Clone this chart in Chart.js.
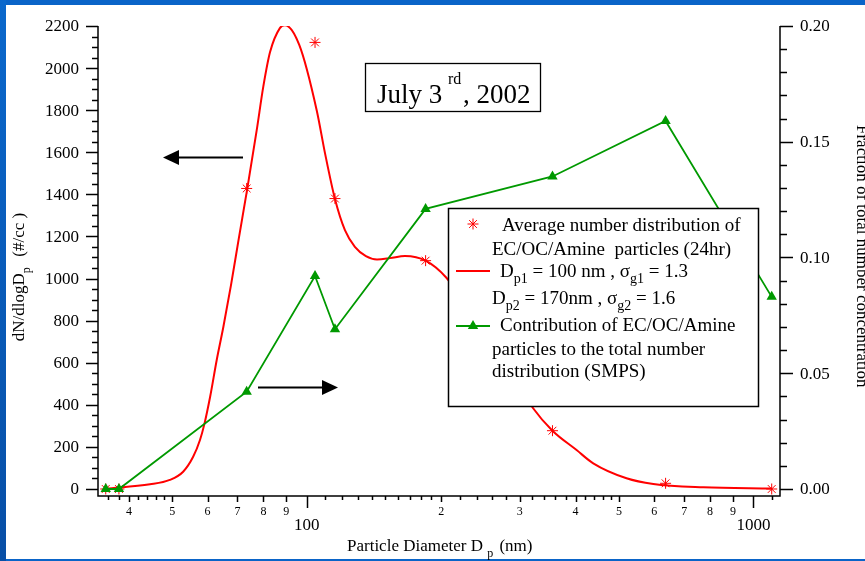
<!DOCTYPE html>
<html>
<head>
<meta charset="utf-8">
<script src="https://cdn.jsdelivr.net/npm/chart.js@4/dist/chart.umd.min.js"></script>
<style>
html, body { margin: 0; padding: 0; background: #fff; }
#wrap { width: 865px; height: 561px; }
</style>
</head>
<body>
<div id="wrap"><canvas id="myChart" width="865" height="561"></canvas></div>
<script>
// fitted lognormal curve
var diamFit = [35.5, 44.6, 49.4, 52.9, 55.7, 57.7, 59.0, 60.8, 62.9, 65.1, 67.7, 70.5, 73.6, 77.3, 80.0, 82.8, 87.1, 89.4, 96.3, 105.3, 109.9, 115.7, 121.8, 128.2, 135.7, 143.7, 153.6, 166, 184.6, 205, 240, 280, 321, 355, 402, 438, 520, 597, 773, 1099];
var numFit = [1, 22, 43, 82, 153, 233, 307, 438, 613, 771, 969, 1192, 1425, 1705, 1914, 2076, 2190, 2204, 2109, 1800, 1596, 1378, 1230, 1151, 1107, 1091, 1097, 1107, 1085, 1006, 800, 590, 385, 277, 185, 122, 51, 24, 8, 2];

// measured points (SMPS bins)
var diamPts = [35.5, 38.0, 73.4, 104.4, 115.7, 184.6, 355, 636, 1099];
var numAvg = [0, 0, 1428, 2122, 1380, 1085, 277, 27, 0];
var fracTotal = [0, 0, 0.042, 0.092, 0.069, 0.121, 0.135, 0.159, 0.083];

// axis ticks
var leftTicks = [0, 200, 400, 600, 800, 1000, 1200, 1400, 1600, 1800, 2000, 2200];
var rightTicks = ['0.00', '0.05', '0.10', '0.15', '0.20'];
var xMajor = [100, 1000];
var xLabeled = [40, 50, 60, 70, 80, 90, 200, 300, 400, 500, 600, 700, 800, 900];
var xSmall = [36, 38, 42, 44, 46, 48, 110, 120, 130, 140, 150, 160, 170, 180, 190,
              220, 240, 260, 280, 320, 340, 360, 380, 420, 440, 460, 480, 1100];

var SERIF = '"Liberation Serif", "Times New Roman", serif';

function rich(c, parts, x, y, size) {
    var cx = x;
    parts.forEach(function(p) {
        var sz = p[1] ? Math.round(size * 0.72) : size;
        var dy = 0;
        if (p[1] == 'sub') dy = size * 0.33;
        if (p[1] == 'sup') dy = -size * 0.42;
        c.font = sz + 'px ' + SERIF;
        c.fillText(p[0], cx, y + dy);
        cx += c.measureText(p[0]).width + (p[2] || 0);
    });
    return cx - x;
}

function richWidth(c, parts, size) {
    var w = 0;
    parts.forEach(function(p) {
        var sz = p[1] ? Math.round(size * 0.72) : size;
        c.font = sz + 'px ' + SERIF;
        w += c.measureText(p[0]).width + (p[2] || 0);
    });
    return w;
}

function star(c, x, y, r) {
    c.beginPath();
    for (var k = 0; k < 4; k++) {
        var a = k * Math.PI / 4;
        c.moveTo(x - Math.cos(a) * r, y - Math.sin(a) * r);
        c.lineTo(x + Math.cos(a) * r, y + Math.sin(a) * r);
    }
    c.stroke();
}

function arrow(c, x1, x2, y) {
    var dir = x2 > x1 ? 1 : -1;
    c.strokeStyle = '#000';
    c.fillStyle = '#000';
    c.lineWidth = 2.2;
    c.beginPath();
    c.moveTo(x1, y);
    c.lineTo(x2 - dir * 14, y);
    c.stroke();
    c.beginPath();
    c.moveTo(x2, y);
    c.lineTo(x2 - dir * 16, y - 7.5);
    c.lineTo(x2 - dir * 16, y + 7.5);
    c.closePath();
    c.fill();
}

var frame = {
    id: 'frame',
    beforeDraw: function(chart) {
        var c = chart.ctx;
        c.save();
        c.fillStyle = '#0a64c8';
        c.fillRect(0, 0, 865, 561);
        var g = c.createLinearGradient(0, 0, 0, 561);
        g.addColorStop(0, '#0b68cc');
        g.addColorStop(1, '#084fa6');
        c.fillStyle = g;
        c.fillRect(0, 0, 6, 561);
        c.fillStyle = '#ffffff';
        c.fillRect(6, 5, 859, 554);
        c.restore();
    },
    afterDraw: function(chart) {
        var c = chart.ctx;
        var sx = chart.scales.x, sy = chart.scales.y, sy2 = chart.scales.y2;
        var L = 98, R = 780, T = sy.getPixelForValue(2200), B = 496;
        c.save();
        c.strokeStyle = '#000';
        c.fillStyle = '#000';
        c.lineWidth = 1.5;

        // axis lines
        c.beginPath();
        c.moveTo(L, T); c.lineTo(L, B); c.lineTo(R, B); c.lineTo(R, T);
        c.stroke();

        // left axis
        c.beginPath();
        for (var v = 0; v <= 2200; v += 50) {
            var py = Math.round(sy.getPixelForValue(v)) + 0.5;
            c.moveTo(L, py);
            c.lineTo(v % 200 == 0 ? L - 12 : L - 6, py);
        }
        c.stroke();
        c.font = '17px ' + SERIF;
        c.textAlign = 'right';
        c.textBaseline = 'middle';
        leftTicks.forEach(function(t) {
            c.fillText(String(t), 79, sy.getPixelForValue(t) + 1);
        });

        // right axis
        c.beginPath();
        for (var k = 0; k <= 20; k++) {
            var py2 = Math.round(sy2.getPixelForValue(k / 100)) + 0.5;
            c.moveTo(R, py2);
            c.lineTo(k % 5 == 0 ? R + 13 : R + 7, py2);
        }
        c.stroke();
        c.textAlign = 'left';
        rightTicks.forEach(function(t) {
            c.fillText(t, 800, sy2.getPixelForValue(parseFloat(t)) + 1);
        });

        // bottom log axis
        c.beginPath();
        xMajor.forEach(function(v) {
            var px = Math.round(sx.getPixelForValue(v)) + 0.5;
            c.moveTo(px, B); c.lineTo(px, B + 12);
        });
        xLabeled.forEach(function(v) {
            var px = Math.round(sx.getPixelForValue(v)) + 0.5;
            c.moveTo(px, B); c.lineTo(px, B + 6);
        });
        xSmall.forEach(function(v) {
            var px = Math.round(sx.getPixelForValue(v)) + 0.5;
            c.moveTo(px, B); c.lineTo(px, B + 4);
        });
        c.stroke();
        c.textAlign = 'center';
        c.font = '12px ' + SERIF;
        xLabeled.forEach(function(v) {
            var d = v >= 100 ? v / 100 : v / 10;
            c.fillText(String(d), sx.getPixelForValue(v), 512);
        });
        c.font = '17px ' + SERIF;
        xMajor.forEach(function(v) {
            c.fillText(String(v), sx.getPixelForValue(v), 526);
        });

        // axis titles
        c.textAlign = 'left';
        c.textBaseline = 'alphabetic';
        rich(c, [['Particle Diameter D '], ['p', 'sub', 2], [' (nm)']], 347, 551, 17);

        var lt = [['dN/dlogD'], ['p', 'sub', 2], ['  (#/cc )']];
        c.save();
        c.translate(24, 277);
        c.rotate(-Math.PI / 2);
        rich(c, lt, -richWidth(c, lt, 17) / 2, 0, 17);
        c.restore();

        c.save();
        c.translate(857, 125);
        c.rotate(Math.PI / 2);
        c.font = '17px ' + SERIF;
        c.fillText('Fraction of total number concentration', 0, 0);
        c.restore();

        // date box
        c.fillStyle = '#fff';
        c.fillRect(365, 63, 175, 49);
        c.lineWidth = 1.3;
        c.strokeRect(365.5, 63.5, 175, 48);
        c.fillStyle = '#000';
        c.font = '27px ' + SERIF;
        c.fillText('July 3', 377, 103);
        c.font = '16px ' + SERIF;
        c.fillText('rd', 448, 84);
        c.font = '27px ' + SERIF;
        c.fillText(', 2002', 463, 103);

        // arrows
        arrow(c, 243, 163, 157.5);
        arrow(c, 258, 338, 387.5);

        // legend box
        c.fillStyle = '#fff';
        c.fillRect(448, 208, 310, 198);
        c.strokeStyle = '#000';
        c.lineWidth = 1.5;
        c.strokeRect(448.5, 208.5, 310, 198);
        c.fillStyle = '#000';
        var fs = 19;
        rich(c, [['Average number distribution of']], 502, 231, fs);
        rich(c, [['EC/OC/Amine  particles (24hr)']], 492, 255, fs);
        rich(c, [['D'], ['p1', 'sub'], [' = 100 nm , \u03c3'], ['g1', 'sub'], [' = 1.3']], 500, 277, fs);
        rich(c, [['D'], ['p2', 'sub'], [' = 170nm , \u03c3'], ['g2', 'sub'], [' = 1.6']], 492, 304, fs);
        rich(c, [['Contribution of EC/OC/Amine']], 500, 331, fs);
        rich(c, [['particles to the total number']], 492, 355, fs);
        rich(c, [['distribution (SMPS)']], 492, 377, fs);

        c.strokeStyle = '#ff0000';
        c.lineWidth = 1;
        star(c, 473, 224, 5.5);
        c.lineWidth = 2;
        c.beginPath(); c.moveTo(456, 271); c.lineTo(490, 271); c.stroke();
        c.strokeStyle = '#009900';
        c.lineWidth = 1.8;
        c.beginPath(); c.moveTo(456, 326); c.lineTo(490, 326); c.stroke();
        c.fillStyle = '#009900';
        c.beginPath();
        c.moveTo(473, 320); c.lineTo(478.2, 329); c.lineTo(467.8, 329);
        c.closePath(); c.fill();

        c.restore();
    }
};

var ctx = document.getElementById('myChart');
var myChart = new Chart(ctx, {
    type: 'line',
    data: {
        datasets: [{
            label: 'fit',
            data: diamFit.map(function(x, i) { return { x: x, y: numFit[i] }; }),
            yAxisID: 'y',
            borderColor: '#ff0000',
            borderWidth: 2,
            pointRadius: 0,
            cubicInterpolationMode: 'monotone',
            order: 3
        }, {
            label: 'avg',
            data: diamPts.map(function(x, i) { return { x: x, y: numAvg[i] }; }),
            yAxisID: 'y',
            showLine: false,
            pointStyle: 'star',
            pointRadius: 5.5,
            pointBorderWidth: 1,
            borderColor: '#ff0000',
            backgroundColor: '#ff0000',
            order: 2
        }, {
            label: 'frac',
            data: diamPts.map(function(x, i) { return { x: x, y: fracTotal[i] }; }),
            yAxisID: 'y2',
            borderColor: '#009900',
            backgroundColor: '#009900',
            borderWidth: 1.8,
            pointStyle: 'triangle',
            pointRadius: 6,
            pointBorderWidth: 0,
            tension: 0,
            order: 1
        }]
    },
    options: {
        responsive: false,
        animation: false,
        layout: { padding: { left: 98, top: 26, right: 85, bottom: 65 } },
        plugins: { legend: { display: false }, tooltip: { enabled: false } },
        scales: {
            x: { type: 'logarithmic', min: 34.11, max: 1147, display: false },
            y: { min: -33.3, max: 2200, display: false },
            y2: { min: -0.00303, max: 0.2, display: false, position: 'right' }
        }
    },
    plugins: [frame]
});
</script>
</body>
</html>
